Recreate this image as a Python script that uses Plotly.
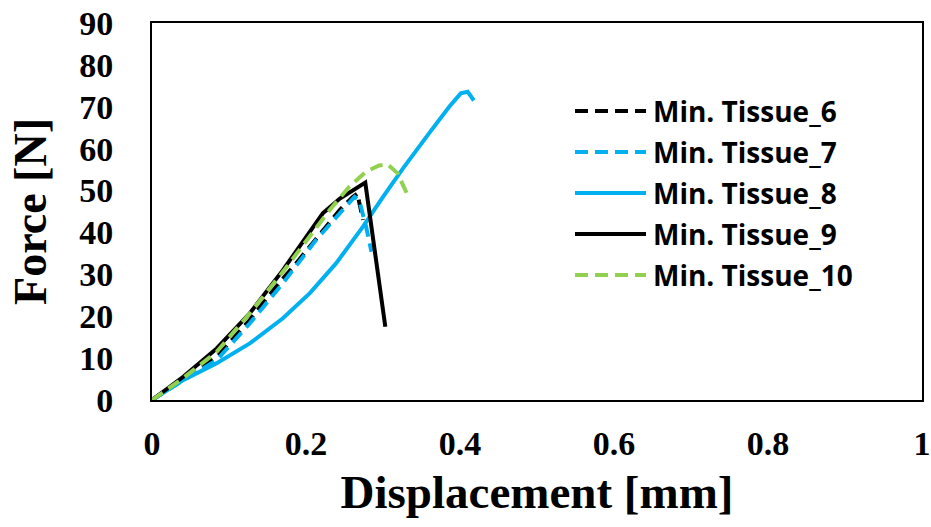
import plotly.graph_objects as go

# ---- data ----
x6 = [0.0, 0.041, 0.084, 0.127, 0.161, 0.187, 0.222, 0.244, 0.261, 0.267, 0.269, 0.274]
y6 = [0.0, 5.0, 10.3, 19.1, 27.0, 32.6, 40.6, 45.4, 48.5, 49.3, 47.3, 43.0]

x7 = [0.0, 0.041, 0.084, 0.127, 0.170, 0.213, 0.244, 0.263, 0.269, 0.278, 0.285]
y7 = [0.0, 4.8, 9.5, 18.3, 27.9, 38.2, 44.6, 48.5, 47.7, 41.4, 35.4]

x8 = [0.0, 0.041, 0.084, 0.127, 0.170, 0.205, 0.239, 0.274, 0.300, 0.326, 0.360, 0.386, 0.401, 0.410, 0.418]
y8 = [0.0, 4.8, 8.8, 13.5, 19.5, 25.5, 32.6, 41.4, 48.5, 55.3, 63.7, 70.0, 73.2, 73.6, 71.5]

x9 = [0.0, 0.041, 0.084, 0.127, 0.170, 0.200, 0.222, 0.244, 0.261, 0.277, 0.303]
y9 = [0.0, 5.6, 12.3, 20.7, 31.0, 39.0, 44.6, 48.1, 50.1, 51.9, 17.5]

x10 = [0.0, 0.041, 0.084, 0.127, 0.170, 0.205, 0.231, 0.256, 0.278, 0.295, 0.306, 0.319, 0.332]
y10 = [0.0, 5.3, 11.5, 20.7, 30.6, 39.0, 45.4, 50.9, 54.5, 56.0, 56.3, 54.1, 48.9]

names = ["Min. Tissue_6", "Min. Tissue_7", "Min. Tissue_8", "Min. Tissue_9", "Min. Tissue_10"]
xs = [x6, x7, x8, x9, x10]
ys = [y6, y7, y8, y9, y10]
colors = ["#000000", "#00B0F0", "#00B0F0", "#000000", "#92D050"]
dashes = ["13px,7px", "13px,7px", "solid", "solid", "13px,7px"]

x_ticks = [0, 0.2, 0.4, 0.6, 0.8, 1]
x_ticktext = ["0", "0.2", "0.4", "0.6", "0.8", "1"]
y_ticks = [0, 10, 20, 30, 40, 50, 60, 70, 80, 90]

fig = go.Figure()
for x, y, n, c, d in zip(xs, ys, names, colors, dashes):
    fig.add_trace(go.Scatter(x=x, y=y, mode="lines", name=n,
                             line=dict(color=c, width=4, dash=d), showlegend=False))

# custom legend (long line samples like the reference)
L, R, T, B = 152, 922, 23, 400
def px2paper(px, py):
    return (px - L) / (R - L), (B - py) / (B - T)

row_y = [111, 152, 193, 234, 275]
for n, c, d, ry in zip(names, colors, dashes, row_y):
    x0, yy = px2paper(575, ry)
    x1, _ = px2paper(646, ry)
    xt, _ = px2paper(651, ry)
    fig.add_shape(type="line", xref="paper", yref="paper", x0=x0, x1=x1, y0=yy, y1=yy,
                  line=dict(color=c, width=4, dash=d))
    fig.add_annotation(xref="paper", yref="paper", x=xt, y=yy, text="<b>%s</b>" % n,
                       showarrow=False, xanchor="left", yanchor="middle",
                       font=dict(family="Open Sans", size=28, color="#000000"))

axis_common = dict(showline=True, linecolor="#000000", linewidth=2, mirror=True,
                   showgrid=False, zeroline=False, ticks="", automargin=False,
                   ticklabeloverflow="allow",
                   tickfont=dict(family="Liberation Serif", size=34, color="#000000", weight="bold"))

fig.update_xaxes(range=[0, 1], tickvals=x_ticks, ticktext=x_ticktext,
                 ticklabelstandoff=12,
                 title=dict(text="<b>Displacement [mm]</b>", standoff=14,
                            font=dict(family="Liberation Serif", size=47, color="#000000")),
                 **axis_common)
fig.update_yaxes(range=[0, 90], tickvals=y_ticks, ticklabelstandoff=30,
                 title=dict(text="<b>Force [N]</b>", standoff=18,
                            font=dict(family="Liberation Serif", size=46, color="#000000")),
                 **axis_common)

fig.update_layout(width=931, height=527, margin=dict(l=L, r=931 - R, t=T, b=527 - B),
                  plot_bgcolor="white", paper_bgcolor="white")

fig.write_html("out.html")
